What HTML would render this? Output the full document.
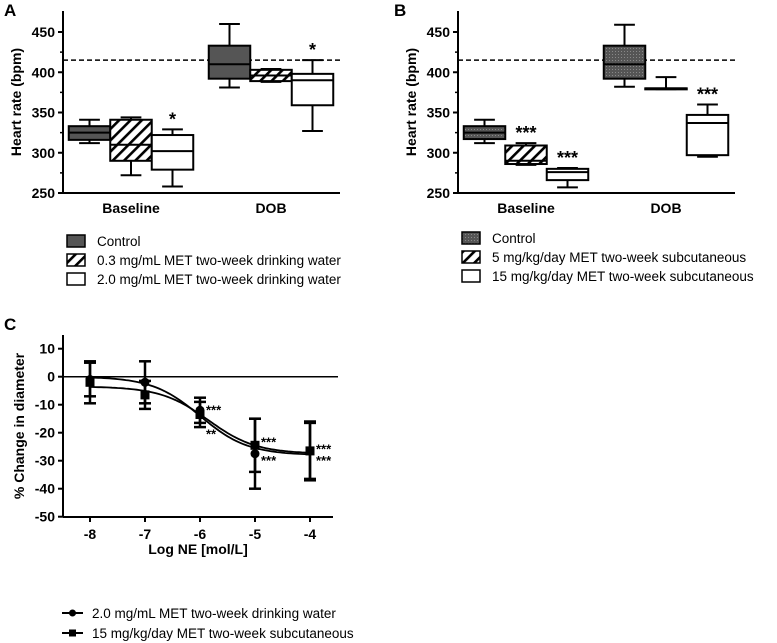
<!DOCTYPE html>
<html><head><meta charset="utf-8"><style>
body{margin:0;background:#fff;width:777px;height:643px;overflow:hidden}
svg{display:block;font-family:"Liberation Sans",Arial,sans-serif}
</style></head><body>
<svg id="s" width="777" height="643" viewBox="0 0 777 643">
<defs>
<pattern id="hatch" patternUnits="userSpaceOnUse" width="8" height="8" patternTransform="rotate(45)">
<rect width="8" height="8" fill="#fff"/><rect x="0" y="0" width="2.6" height="8" fill="#000"/></pattern>
<pattern id="dots" patternUnits="userSpaceOnUse" width="3" height="3"><rect width="3" height="3" fill="#555"/><rect width="1" height="1" fill="#888"/></pattern>
</defs>
</svg>
<script>
const groups=["Baseline","DOB"];
const yTicks=[250,300,350,400,450];
// panel A [whiskerLow, q1, median, q3, whiskerHigh]
const aControl=[[312,316,325,333,341],[381,392,410,433,460]];
const aLow=[[272,290,310,341,344],[388,389,396,403,404]];
const aHigh=[[258,279,302,322,329],[327,359,390,398,415]];
const aStars=[["","","*"],["","","*"]];
// panel B
const bControl=[[312,317,325,333,341],[382,392,410,433,459]];
const bLow=[[285,286,290,309,312],[379,379,380,380,394]];
const bHigh=[[257,266,276,280,281],[295,297,337,347,360]];
const bStars=[["","***","***"],["","","***"]];
const refLine=415;
// panel C
const cX=[-8,-7,-6,-5,-4];
const cCircle=[-1,-2,-12,-27.5,-26.5];
const cCircleErr=[6,7.5,4.5,12.5,10];
const cSquare=[-2,-6.5,-13.5,-24.5,-26.5];
const cSquareErr=[7.5,5,4.5,9.5,10.5];
const cUpperStars=["","","***","***","***"];
const cUpperStarVal=[0,0,-11,-22.5,-25];
const cLowerStars=["","","**","***","***"];
const cLowerStarVal=[0,0,-19.5,-29,-29];
const cYTicks=[10,0,-10,-20,-30,-40,-50];
const cXTicks=[-8,-7,-6,-5,-4];
const fitCircle=[0,-28,-6.0,1];
const fitSquare=[-3.5,-27.5,-5.85,1];

const S=document.getElementById('s'),NS='http://www.w3.org/2000/svg';
function el(t,a,p){const e=document.createElementNS(NS,t);for(const k in a)e.setAttribute(k,a[k]);(p||S).appendChild(e);return e;}
function txt(x,y,s,a,p){const e=el('text',Object.assign({x:x,y:y},a),p);e.textContent=s;return e;}

function boxPanel(name,ox,data,fills,stars,legend,legY){
  const g=el('g',{});
  
  
  const x0=ox,x1=ox+277,yTop=11,yb=193;
  const Y=v=>yb-(v-250)*(yb-32)/200;
  el('line',{x1:x0,y1:yTop,x2:x0,y2:yb,stroke:'#000','stroke-width':2},g);
  el('line',{x1:x0,y1:yb,x2:x1,y2:yb,stroke:'#000','stroke-width':2},g);
  yTicks.forEach(t=>{el('line',{x1:x0-5,y1:Y(t),x2:x0,y2:Y(t),stroke:'#000','stroke-width':2},g);
    const tk=txt(x0-8,Y(t)+5,t,{'text-anchor':'end','font-size':14,'font-weight':'bold'},g);
    
    });
  for(let v=275;v<450;v+=50)el('line',{x1:x0-3,y1:Y(v),x2:x0,y2:Y(v),stroke:'#000','stroke-width':1.5},g);
  const yt=txt(0,0,'Heart rate (bpm)',{'text-anchor':'middle','font-size':14,'font-weight':'bold',transform:`translate(${x0-42},${(yTop+yb)/2}) rotate(-90)`},g);
  
  
  el('line',{x1:x0,y1:Y(refLine),x2:x1,y2:Y(refLine),stroke:'#000','stroke-width':1.5,'stroke-dasharray':'5,3'},g);
  const gc=[x0+68,x0+208],bw=41.5;
  groups.forEach((gn,gi)=>{
    const gl=txt(gc[gi],213,gn,{'text-anchor':'middle','font-size':14,'font-weight':'bold'},g);
    
    
    data.forEach((ser,si)=>{
      const d=ser[gi],cx=gc[gi]+(si-1)*bw,l=cx-bw/2,r=cx+bw/2;
      const bx=el('g',{},g);
      
      
      el('line',{x1:cx,y1:Y(d[0]),x2:cx,y2:Y(d[4]),stroke:'#000','stroke-width':2},bx);
      el('line',{x1:cx-bw/4,y1:Y(d[0]),x2:cx+bw/4,y2:Y(d[0]),stroke:'#000','stroke-width':2},bx);
      el('line',{x1:cx-bw/4,y1:Y(d[4]),x2:cx+bw/4,y2:Y(d[4]),stroke:'#000','stroke-width':2},bx);
      el('rect',{x:l,y:Y(d[3]),width:bw,height:Math.max(1,Y(d[1])-Y(d[3])),fill:fills[si],stroke:'#000','stroke-width':2},bx);
      el('line',{x1:l,y1:Y(d[2]),x2:r,y2:Y(d[2]),stroke:'#000','stroke-width':2},bx);
      if(stars[gi][si])txt(cx,Y(d[4])-4,stars[gi][si],{'text-anchor':'middle','font-size':18,'font-weight':'bold'},bx);
    });
  });
  legend.forEach((lt,i)=>{
    const ly=legY+i*19;
    const le=el('g',{},g);
    
    
    el('rect',{x:ox+4,y:ly-6,width:18,height:12,fill:fills[i],stroke:'#000','stroke-width':1.5},le);
    txt(ox+34,ly+5,lt,{'font-size':13.5},le);
  });
}
boxPanel('panel-a',63,[aControl,aLow,aHigh],['#555','url(#hatch)','#fff'],aStars,
 ['Control','0.3 mg/mL MET two-week drinking water','2.0 mg/mL MET two-week drinking water'],241);
boxPanel('panel-b',458,[bControl,bLow,bHigh],['url(#dots)','url(#hatch)','#fff'],bStars,
 ['Control','5 mg/kg/day MET two-week subcutaneous','15 mg/kg/day MET two-week subcutaneous'],238);
[['A',4],['B',394]].forEach(p=>{const t=txt(p[1],16,p[0],{'font-size':17,'font-weight':'bold'});});
const tc=txt(4,330,'C',{'font-size':17,'font-weight':'bold'});



// panel C
const gC=el('g',{});


const cx0=63,cx1=333,cyTop=335,cyb=517;
const CY=v=>376.7-v*2.8,CX=v=>90+(v+8)*55;
el('line',{x1:cx0,y1:cyTop,x2:cx0,y2:cyb,stroke:'#000','stroke-width':2},gC);
el('line',{x1:cx0,y1:cyb,x2:cx1,y2:cyb,stroke:'#000','stroke-width':2},gC);
el('line',{x1:cx0,y1:CY(0),x2:cx1+5,y2:CY(0),stroke:'#000','stroke-width':1.5},gC);
cYTicks.forEach(t=>{el('line',{x1:cx0-5,y1:CY(t),x2:cx0,y2:CY(t),stroke:'#000','stroke-width':2},gC);
  const tk=txt(cx0-8,CY(t)+5,t,{'text-anchor':'end','font-size':14,'font-weight':'bold'},gC);
  
  });
cXTicks.forEach(t=>{el('line',{x1:CX(t),y1:cyb,x2:CX(t),y2:cyb+5,stroke:'#000','stroke-width':2},gC);
  const tk=txt(CX(t),cyb+22,t,{'text-anchor':'middle','font-size':14,'font-weight':'bold'},gC);
  
  });
const cxt=txt(198,554,'Log NE [mol/L]',{'text-anchor':'middle','font-size':14,'font-weight':'bold'},gC);


const cyt=txt(0,0,'% Change in diameter',{'text-anchor':'middle','font-size':14,'font-weight':'bold',transform:`translate(24,${(cyTop+cyb)/2}) rotate(-90)`},gC);


function fitPath(p){let d='';for(let i=0;i<=80;i++){const x=-8+i*4/80;const y=p[1]+(p[0]-p[1])/(1+Math.pow(10,(x-p[2])*p[3]));d+=(i?'L':'M')+CX(x).toFixed(1)+','+CY(y).toFixed(1);}return d;}
[[fitCircle,'fit-curve-drinking'],[fitSquare,'fit-curve-subcutaneous']].forEach(f=>{
  const p=el('path',{d:fitPath(f[0]),fill:'none',stroke:'#000','stroke-width':1.8},gC);
  
  });
function series(vals,errs,shape,nm){
  vals.forEach((v,i)=>{
    const x=CX(cX[i]),g=el('g',{},gC);
    
    
    el('line',{x1:x,y1:CY(v+errs[i]),x2:x,y2:CY(v-errs[i]),stroke:'#000','stroke-width':2.5},g);
    [v+errs[i],v-errs[i]].forEach(e=>el('line',{x1:x-6,y1:CY(e),x2:x+6,y2:CY(e),stroke:'#000','stroke-width':2.5},g));
    if(shape==='c')el('circle',{cx:x,cy:CY(v),r:4.5,fill:'#000'},g);
    else el('rect',{x:x-4.5,y:CY(v)-4.5,width:9,height:9,fill:'#000'},g);
  });
}
series(cCircle,cCircleErr,'c','drinking');
series(cSquare,cSquareErr,'s','subcutaneous');
[[cUpperStars,cUpperStarVal],[cLowerStars,cLowerStarVal]].forEach(st=>{
  st[0].forEach((s,i)=>{if(!s)return;
    const t=txt(CX(cX[i])+6,CY(st[1][i])+7,s,{'font-size':13,'font-weight':'bold'},gC);
    
    });
});
[['c','2.0 mg/mL MET two-week drinking water',613],['s','15 mg/kg/day MET two-week subcutaneous',633]].forEach(l=>{
  const g=el('g',{},gC);
  
  
  el('line',{x1:62,y1:l[2],x2:83,y2:l[2],stroke:'#000','stroke-width':2},g);
  if(l[0]==='c')el('circle',{cx:72.5,cy:l[2],r:3.5,fill:'#000'},g);else el('rect',{x:69,y:l[2]-3.5,width:7,height:7,fill:'#000'},g);
  txt(92,l[2]+5,l[1],{'font-size':13.5},g);
});
</script>
</body></html>
